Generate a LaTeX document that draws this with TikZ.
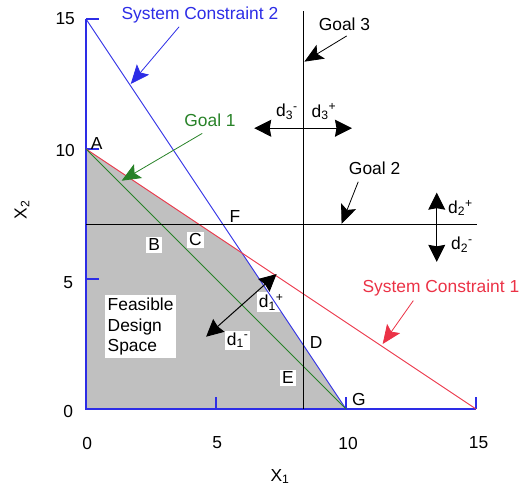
\documentclass[tikz,border=0pt]{standalone}
\usepackage{fontspec}
\setmainfont{Liberation Sans}
\usetikzlibrary{arrows.meta}
\definecolor{cblue}{RGB}{45,45,230}
\definecolor{cred}{RGB}{235,50,70}
\definecolor{cgreen}{RGB}{40,130,40}
\definecolor{cgray}{RGB}{192,192,192}
\tikzset{
  lbl/.style={inner sep=1pt},
  wbox/.style={fill=white, inner sep=2pt},
  ptr/.style={-{Stealth[length=19pt,width=16pt,inset=4pt]}, line width=0.8pt},
  dev/.style={{Stealth[length=17pt,width=17pt,inset=1.5pt]}-{Stealth[length=17pt,width=17pt,inset=1.5pt]}, line width=1pt},
  axis/.style={cblue, line width=1.2pt},
  cline/.style={line width=0.9pt}
}
\begin{document}
\begin{tikzpicture}[x=26pt,y=26pt, font=\fontsize{17.4}{20.5}\selectfont]
\useasboundingbox (-3.3077,-3.1538) rectangle (16.6538,15.7308);
% feasible region
\fill[cgray] (0,0) -- (0,10) -- (6,6) -- (10,0) -- cycle;
% white label boxes
\node[wbox] (B) at (2.62,6.31) {B};
\node[wbox] (C) at (4.21,6.51) {C};
\node[wbox, align=left, inner sep=3pt] (FDS) at (2.10,3.17) {Feasible\\Design\\Space};
\node[wbox] (d1p) at (7.12,4.10) {d\textsubscript{1}\textsuperscript{+}};
\node[wbox] (d1m) at (5.83,2.65) {d\textsubscript{1}\textsuperscript{-}};
\node[wbox] (D) at (8.85,2.55) {D};
\node[wbox] (E) at (7.77,1.21) {E};
% axes
\draw[axis] (0,15) -- (0,0) -- (15,0);
\foreach \t in {5,10,15} {
  \draw[axis] (0,\t) -- (0.5,\t);
  \draw[axis] (\t,0) -- (\t,0.48);
}
% constraints and goals
\draw[cline, cblue] (0,15) -- (10,0);
\draw[cline, cred] (0,10) -- (15,0);
\draw[cline, cgreen] (0,10) -- (10,0);
\draw[cline, black] (0,7.08) -- (15.03,7.08);
\draw[cline, black] (8.36,0) -- (8.36,15.31);
% tick labels
\node[lbl, anchor=east] (y15) at (-0.38,15) {15};
\node[lbl, anchor=east] (y10) at (-0.38,9.96) {10};
\node[lbl, anchor=east] (y5) at (-0.45,4.88) {5};
\node[lbl, anchor=east] (y0) at (-0.45,-0.1) {0};
\node[lbl] (x0) at (0.05,-1.31) {0};
\node[lbl] (x5) at (5.05,-1.31) {5};
\node[lbl] (x10) at (10.08,-1.31) {10};
\node[lbl] (x15) at (15.1,-1.31) {15};
\node[lbl] (X1) at (7.46,-2.6) {X\textsubscript{1}};
\node[lbl, rotate=90] (X2) at (-2.46,7.65) {X\textsubscript{2}};
% point labels
\node[lbl] (A) at (0.41,10.22) {A};
\node[lbl] (F) at (5.73,7.40) {F};
\node[lbl] (G) at (10.5,0.35) {G};
% annotation labels
\node[lbl, text=cblue] (SC2) at (4.38,15.15) {System Constraint 2};
\node[lbl, text=cred] (SC1) at (13.65,4.64) {System Constraint 1};
\node[lbl, text=cgreen] (G1) at (4.77,11.09) {Goal 1};
\node[lbl] (G3) at (9.94,14.81) {Goal 3};
\node[lbl] (G2) at (11.10,9.26) {Goal 2};
\node[lbl] (d3m) at (7.73,11.43) {d\textsubscript{3}\textsuperscript{-}};
\node[lbl] (d3p) at (9.15,11.43) {d\textsubscript{3}\textsuperscript{+}};
\node[lbl] (d2p) at (14.40,7.73) {d\textsubscript{2}\textsuperscript{+}};
\node[lbl] (d2m) at (14.46,6.31) {d\textsubscript{2}\textsuperscript{-}};
% arrow coordinates
\coordinate (sc2s) at (3.58,14.70);
\coordinate (sc2t) at (1.72,12.50);
\coordinate (g1s) at (4.47,10.60);
\coordinate (g1t) at (1.37,8.78);
\coordinate (g3s) at (10.03,14.35);
\coordinate (g3t) at (8.40,13.36);
\coordinate (g2s) at (10.47,8.74);
\coordinate (g2t) at (9.83,7.12);
\coordinate (sc1s) at (12.59,4.17);
\coordinate (sc1t) at (11.41,2.50);
\coordinate (d3l) at (6.47,10.80);
\coordinate (d3r) at (10.23,10.80);
\coordinate (d2u) at (13.49,8.32);
\coordinate (d2d) at (13.49,5.66);
\coordinate (d1l) at (4.62,2.78);
\coordinate (d1u) at (7.33,5.19);
% pointer arrows
\draw[ptr, cblue] (sc2s) -- (sc2t);
\draw[ptr, cgreen] (g1s) -- (g1t);
\draw[ptr, black] (g3s) -- (g3t);
\draw[ptr, black] (g2s) -- (g2t);
\draw[ptr, cred] (sc1s) -- (sc1t);
% deviation arrows
\draw[dev] (d3l) -- (d3r);
\draw[dev] (d2u) -- (d2d);
\draw[dev] (d1l) -- (d1u);
\end{tikzpicture}
\end{document}
